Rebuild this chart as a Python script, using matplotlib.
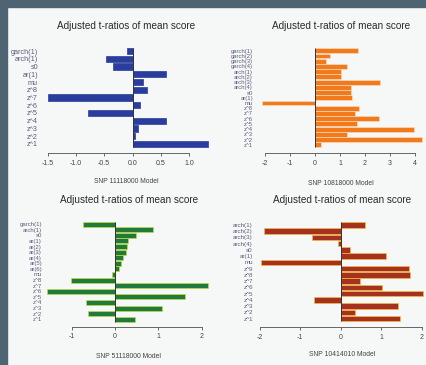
import matplotlib
matplotlib.use("Agg")
import matplotlib.pyplot as plt
from matplotlib.patches import Rectangle

plt.rcParams['font.family'] = ['Liberation Sans', 'DejaVu Sans']

# --- data -------------------------------------------------------------
title = "Adjusted t-ratios of mean score"

labels_1 = ['garch(1)', 'arch(1)', 's0', 'ar(1)', 'mu', 'z^8', 'z^7', 'z^6',
            'z^5', 'z^4', 'z^3', 'z^2', 'z^1']
values_1 = [-0.10, -0.47, -0.34, 0.60, 0.19, 0.25, -1.50, 0.13, -0.79, 0.59,
            0.10, 0.05, 1.34]
ticks_1 = [-1.5, -1.0, -0.5, 0.0, 0.5, 1.0]
tick_labels_1 = ['-1.5', '-1.0', '-0.5', '0.0', '0.5', '1.0']
model_1 = "SNP 11118000 Model"

labels_2 = ['garch(1)', 'garch(2)', 'garch(3)', 'garch(4)', 'arch(1)', 'arch(2)',
            'arch(3)', 'arch(4)', 's0', 'ar(1)', 'mu', 'z^8', 'z^7', 'z^6',
            'z^5', 'z^4', 'z^3', 'z^2', 'z^1']
values_2 = [1.72, 0.62, 0.45, 1.27, 1.04, 1.05, 2.60, 1.44, 1.46, 1.50, -2.10,
            1.76, 1.62, 2.56, 1.68, 3.97, 1.27, 4.29, 0.25]
ticks_2 = [-2, -1, 0, 1, 2, 3, 4]
tick_labels_2 = ['-2', '-1', '0', '1', '2', '3', '4']
model_2 = "SNP 10818000 Model"

labels_3 = ['garch(1)', 'arch(1)', 's0', 'ar(1)', 'ar(2)', 'ar(3)', 'ar(4)',
            'ar(5)', 'ar(6)', 'mu', 'z^8', 'z^7', 'z^6', 'z^5', 'z^4', 'z^3',
            'z^2', 'z^1']
values_3 = [-0.73, 0.88, 0.48, 0.31, 0.28, 0.25, 0.19, 0.15, 0.10, -0.08,
            -1.02, 2.15, -1.56, 1.62, -0.67, 1.08, -0.62, 0.46]
ticks_3 = [-1, 0, 1, 2]
tick_labels_3 = ['-1', '0', '1', '2']
model_3 = "SNP 51118000 Model"

labels_4 = ['arch(1)', 'arch(2)', 'arch(3)', 'arch(4)', 's0', 'ar(1)', 'mu',
            'z^9', 'z^8', 'z^7', 'z^6', 'z^5', 'z^4', 'z^3', 'z^2', 'z^1']
values_4 = [0.61, -1.90, -0.70, -0.07, 0.22, 1.13, -1.96, 1.69, 1.70, 0.47,
            1.03, 2.02, -0.67, 1.42, 0.35, 1.47]
ticks_4 = [-2, -1, 0, 1, 2]
tick_labels_4 = ['-2', '-1', '0', '1', '2']
model_4 = "SNP 10414010 Model"

# --- figure -----------------------------------------------------------
W, H = 427, 365
fig = plt.figure(figsize=(W / 100, H / 100), dpi=100)
fig.patch.set_facecolor('#f6f7f7')

# dark slide border (top and left)
border = '#4f6472'
fig.patches.append(Rectangle((0, 1 - 7 / H), 1, 7 / H, transform=fig.transFigure,
                             color=border, zorder=0))
fig.patches.append(Rectangle((0, 0), 7 / W, 1, transform=fig.transFigure,
                             color=border, zorder=0))


def draw_panel(labels, values, ticks, tick_labels, model, color, edge,
               left, right, zero, scale, bar_top, bar_bot, axis_y, title_xy,
               model_xy, bar_h=0.83, lab_size=5, edge_w=0.5):
    n = len(values)
    ax = fig.add_axes([left / W, 1 - axis_y / H, (right - left) / W,
                       (axis_y - bar_top) / H])
    ax.set_facecolor('none')
    unit = (bar_bot - bar_top) / (n - 1 + bar_h)
    ax.set_ylim(n - 1 + bar_h / 2 + (axis_y - bar_bot) / unit, -bar_h / 2)
    ax.set_xlim((left - zero) / scale, (right - zero) / scale)

    ax.barh(range(n), values, height=bar_h, color=color, edgecolor=edge,
            linewidth=edge_w, zorder=2)
    ax.vlines(0, -bar_h / 2, n - 1 + bar_h / 2, color='#333333', lw=0.7, zorder=3)

    for s in ['top', 'right', 'left']:
        ax.spines[s].set_visible(False)
    ax.spines['bottom'].set_bounds(ticks[0], ticks[-1])
    ax.spines['bottom'].set_color('#666666')
    ax.spines['bottom'].set_linewidth(0.7)

    ax.set_xticks(ticks)
    ax.set_xticklabels(tick_labels)
    ax.tick_params(axis='x', length=2.5, width=0.7, color='#666666', pad=2.5,
                   labelsize=5, labelcolor='#444444')
    ax.set_yticks(range(n))
    ax.set_yticklabels(labels)
    ax.tick_params(axis='y', length=0, pad=1.5, labelsize=lab_size,
                   labelcolor='#5a5f7c')

    fig.text(title_xy[0] / W, 1 - title_xy[1] / H, title, ha='center',
             va='center', fontsize=7.2, color='#2a2a2a')
    fig.text(model_xy[0] / W, 1 - model_xy[1] / H, model, ha='center',
             va='center', fontsize=4.9, color='#444444')


draw_panel(labels_1, values_1, ticks_1, tick_labels_1, model_1, '#2a3c9c', '#2a3c9c',
           40, 215, 132.5, 56.5, 48, 147, 153, (126, 26), (126, 182),
           bar_h=0.8, lab_size=5.2)
draw_panel(labels_2, values_2, ticks_2, tick_labels_2, model_2, '#f07a1c', '#fde3c6',
           255, 425, 315, 25, 48.3, 147.3, 153, (341, 26), (341, 183),
           bar_h=0.94, lab_size=4.2, edge_w=0.4)
draw_panel(labels_3, values_3, ticks_3, tick_labels_3, model_3, '#1f7a3c', '#c9de3a',
           44, 213, 115, 43.3, 221.7, 321.7, 326.5, (129, 200), (129, 356),
           bar_h=0.88, lab_size=4.3, edge_w=0.45)
draw_panel(labels_4, values_4, ticks_4, tick_labels_4, model_4, '#a8301e', '#f2c23a',
           255, 425, 340.7, 40.5, 222, 321.3, 327, (342, 200), (342, 355),
           bar_h=0.88, lab_size=4.5, edge_w=0.45)

fig.savefig('out.png', dpi=100, facecolor=fig.get_facecolor())
